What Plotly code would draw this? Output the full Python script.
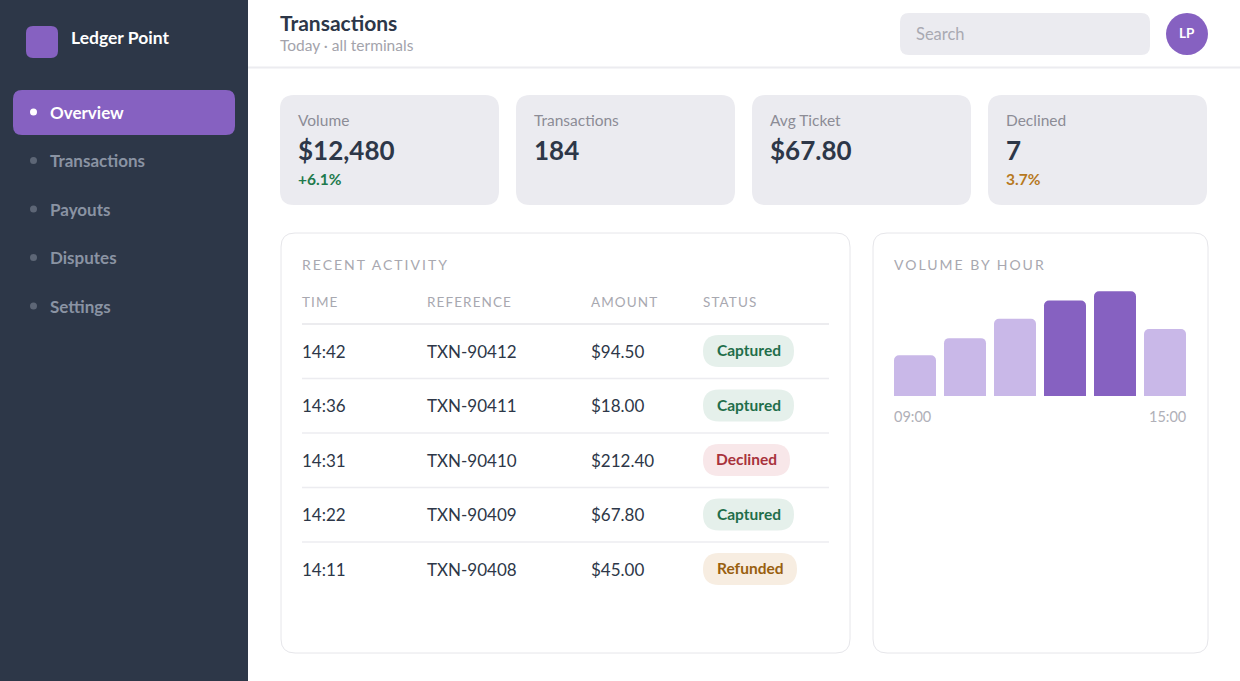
import plotly.graph_objects as go

W, H = 1240, 681
FONT = 'Lato, sans-serif'

PURPLE = '#8661c1'
LILAC = '#c9b8e8'
SIDEBAR = '#2d3748'
INK = '#2d3748'
CARD = '#ebebf0'
RULE = '#ececf0'

# data
nav_items = ['Overview', 'Transactions', 'Payouts', 'Disputes', 'Settings']

kpi_labels = ['Volume', 'Transactions', 'Avg Ticket', 'Declined']
kpi_values = ['$12,480', '184', '$67.80', '7']
kpi_deltas = ['+6.1%', '', '', '3.7%']

table_cols = ['TIME', 'REFERENCE', 'AMOUNT', 'STATUS']
tx_times = ['14:42', '14:36', '14:31', '14:22', '14:11']
tx_refs = ['TXN-90412', 'TXN-90411', 'TXN-90410', 'TXN-90409', 'TXN-90408']
tx_amounts = ['$94.50', '$18.00', '$212.40', '$67.80', '$45.00']
tx_status = ['Captured', 'Captured', 'Declined', 'Captured', 'Refunded']

hours = ['09:00', '10:00', '11:00', '12:00', '13:00', '14:00']
hour_volume = [1145, 1630, 2175, 2690, 2950, 1890]
peak_hours = ['12:00', '13:00']
hour_axis_labels = ['09:00', '15:00']

# badge fill, text colour, pill width
status_style = {
    'Captured': ('#e5f0eb', '#1f6e4a', 91),
    'Declined': ('#f8e7e9', '#a8323c', 87),
    'Refunded': ('#f7ede1', '#99600f', 94),
}
delta_colors = {'+6.1%': '#1f7a4d', '3.7%': '#b7791f'}


def rrect(x0, y0, x1, y1, r):
    return (f'M{x0+r},{y0} L{x1-r},{y0} Q{x1},{y0} {x1},{y0+r} '
            f'L{x1},{y1-r} Q{x1},{y1} {x1-r},{y1} L{x0+r},{y1} '
            f'Q{x0},{y1} {x0},{y1-r} L{x0},{y0+r} Q{x0},{y0} {x0+r},{y0} Z')


shapes = []
notes = []


def box(x0, y0, x1, y1, r, fill, line=None):
    shapes.append(dict(type='path', xref='x', yref='y', path=rrect(x0, y0, x1, y1, r),
                       fillcolor=fill, line=dict(width=1 if line else 0, color=line or fill),
                       layer='below'))


def text(x, y, s, size, color, bold=False, anchor='left', spacing=None):
    if spacing:
        s = f'<span style="letter-spacing:{spacing}px">{s}</span>'
    nudge = {'left': -1, 'right': 1}.get(anchor, 0)
    notes.append(dict(x=x + nudge, y=y, xref='x', yref='y', text=s, showarrow=False,
                      xanchor=anchor, yanchor='middle', borderpad=0,
                      font=dict(family=FONT, size=size, color=color,
                                weight=700 if bold else 400)))


# sidebar
shapes.append(dict(type='rect', xref='x', yref='y', x0=0, y0=0, x1=248, y1=H,
                   fillcolor=SIDEBAR, line=dict(width=0), layer='below'))
box(26, 26, 58, 58, 7, PURPLE)
text(71, 37, 'Ledger Point', 17.5, 'white', bold=True)
for i, item in enumerate(nav_items):
    cy = 112 + i * 48.5
    active = i == 0
    if active:
        box(13, 90, 235, 135, 9, PURPLE)
    dot = 'white' if active else '#5d6676'
    shapes.append(dict(type='circle', xref='x', yref='y', x0=30, y0=cy - 3.5,
                       x1=37, y1=cy + 3.5, fillcolor=dot, line=dict(width=0)))
    text(50, cy, item, 17, 'white' if active else '#8a93a3', bold=True)

# header
text(280, 22, 'Transactions', 21, INK, bold=True)
text(280, 45, 'Today · all terminals', 15.5, '#a3a3ab')
shapes.append(dict(type='line', xref='x', yref='y', x0=248, x1=W, y0=67.5, y1=67.5,
                   line=dict(color=RULE, width=2)))
box(900, 13, 1150, 55, 9, CARD)
text(916, 34, 'Search', 16.5, '#a9a9b2')
shapes.append(dict(type='circle', xref='x', yref='y', x0=1166, y0=13, x1=1208, y1=55,
                   fillcolor=PURPLE, line=dict(width=0)))
text(1187, 33, 'LP', 13.5, 'white', bold=True, anchor='center')

# kpi cards
for i, (lab, val, dlt) in enumerate(zip(kpi_labels, kpi_values, kpi_deltas)):
    x0 = 280 + i * 236
    box(x0, 95, x0 + 219, 205, 14, CARD)
    text(x0 + 18, 120, lab, 15.5, '#8c8c96')
    text(x0 + 18, 150, val, 26, INK, bold=True)
    if dlt:
        text(x0 + 18, 179, dlt, 15.5, delta_colors[dlt], bold=True)

# recent activity card
box(281, 233, 850, 653, 14, 'white', '#e6e6ea')
text(302, 264, 'RECENT ACTIVITY', 14, '#a8a8b0', spacing=2)
col_x = [302, 427, 591, 703]
for cx, c in zip(col_x, table_cols):
    text(cx, 302, c, 13.5, '#a8a8b0', spacing=1.1)
shapes.append(dict(type='line', xref='x', yref='y', x0=302, x1=829, y0=324, y1=324,
                   line=dict(color='#e6e6ea', width=1.5)))
for i, row in enumerate(zip(tx_times, tx_refs, tx_amounts, tx_status)):
    cy = 351 + i * 54.5
    if i > 0:
        shapes.append(dict(type='line', xref='x', yref='y', x0=302, x1=829,
                           y0=cy - 27, y1=cy - 27, line=dict(color=RULE, width=1.5)))
    for cx, v in zip(col_x[:3], row[:3]):
        text(cx, cy, v, 17, INK)
    bg, fg, bw = status_style[row[3]]
    box(703, cy - 16, 703 + bw, cy + 16, 16, bg)
    text(703 + bw / 2, cy - 1, row[3], 15.5, fg, bold=True, anchor='center')

# volume by hour card
box(873, 233, 1208, 653, 14, 'white', '#e6e6ea')
text(894, 264, 'VOLUME BY HOUR', 14, '#a8a8b0', spacing=2)
text(894, 416, hour_axis_labels[0], 14.5, '#b0b0b8')
text(1186, 416, hour_axis_labels[1], 14.5, '#b0b0b8', anchor='right')

bar_colors = [PURPLE if h in peak_hours else LILAC for h in hours]
ymax = 3000
y_bottom = 396
y_top = y_bottom - 104.7 * ymax / 2950

fig = go.Figure()
fig.add_trace(go.Bar(x=hours, y=hour_volume, marker=dict(color=bar_colors, cornerradius=5,
                     line=dict(width=0)), xaxis='x2', yaxis='y2', hoverinfo='skip'))

fig.update_layout(
    width=W, height=H, margin=dict(l=0, r=0, t=0, b=0),
    paper_bgcolor='white', plot_bgcolor='rgba(0,0,0,0)',
    showlegend=False, bargap=0.16,
    xaxis=dict(range=[0, W], visible=False, domain=[0, 1], fixedrange=True),
    yaxis=dict(range=[H, 0], visible=False, domain=[0, 1], fixedrange=True),
    xaxis2=dict(domain=[890 / W, 1190 / W], anchor='y2', visible=False,
                range=[-0.5, 5.5]),
    yaxis2=dict(domain=[1 - y_bottom / H, 1 - y_top / H], anchor='x2', visible=False,
                range=[0, ymax]),
    shapes=shapes, annotations=notes,
)

fig.write_html('out.html', config={'displayModeBar': False},
               post_script="document.body.style.margin='0';")
